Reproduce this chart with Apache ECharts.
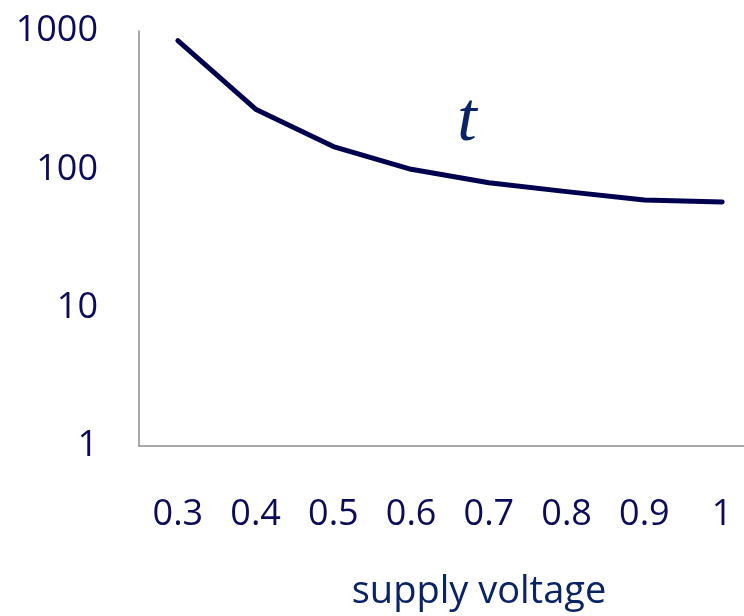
<!DOCTYPE html>
<html>
<head>
<meta charset="utf-8">
<script src="https://cdn.jsdelivr.net/npm/echarts@6/dist/echarts.min.js"></script>
<style>
  html, body { margin: 0; padding: 0; background: #ffffff; overflow: hidden; }
  #chart { width: 800px; height: 616px; }
</style>
</head>
<body>
<div id="chart"></div>
<script>
// Supply voltage (V) and delay t on a log scale
const voltages = ['0.3', '0.4', '0.5', '0.6', '0.7', '0.8', '0.9', '1'];
const delayT = [851, 272, 146, 100, 80, 69, 60, 58];
const yTicks = [1, 10, 100, 1000];

const labelColor = '#0b0b5a';
const titleColor = '#0a2266';

const chart = echarts.init(document.getElementById('chart'), null, { renderer: 'canvas' });

chart.setOption({
  backgroundColor: '#ffffff',
  animation: false,
  // plot area runs a little past the right edge of the page
  grid: { left: 139, top: 31, width: 622, height: 415, containLabel: false },
  xAxis: {
    type: 'category',
    data: voltages,
    boundaryGap: true,
    axisLine: { show: true, lineStyle: { color: '#8c8c8c', width: 1.5 } },
    axisTick: { show: false },
    splitLine: { show: false },
    axisLabel: {
      color: labelColor,
      fontFamily: 'Open Sans',
      fontSize: 36,
      margin: 51
    }
  },
  yAxis: {
    type: 'log',
    logBase: 10,
    min: yTicks[0],
    max: yTicks[yTicks.length - 1],
    axisLine: { show: true, lineStyle: { color: '#8c8c8c', width: 1.5 } },
    axisTick: { show: false },
    splitLine: { show: false },
    minorTick: { show: false },
    axisLabel: {
      color: labelColor,
      fontFamily: 'Open Sans',
      fontSize: 36,
      margin: 41,
      formatter: function (v) { return String(Math.round(v)); }
    }
  },
  series: [{
    name: 't',
    type: 'line',
    data: delayT,
    symbol: 'none',
    smooth: false,
    lineStyle: { color: '#00004f', width: 5, cap: 'round', join: 'round' }
  }],
  graphic: [
    {
      type: 'text',
      x: 467,
      y: 157,
      style: {
        text: 't',
        fill: titleColor,
        font: 'italic 70px "Liberation Serif"',
        textAlign: 'center',
        textVerticalAlign: 'bottom'
      }
    },
    {
      type: 'text',
      x: 479,
      y: 592,
      style: {
        text: 'supply voltage',
        fill: titleColor,
        font: '38px "Open Sans"',
        textAlign: 'center',
        textVerticalAlign: 'middle'
      }
    }
  ]
});
</script>
</body>
</html>
